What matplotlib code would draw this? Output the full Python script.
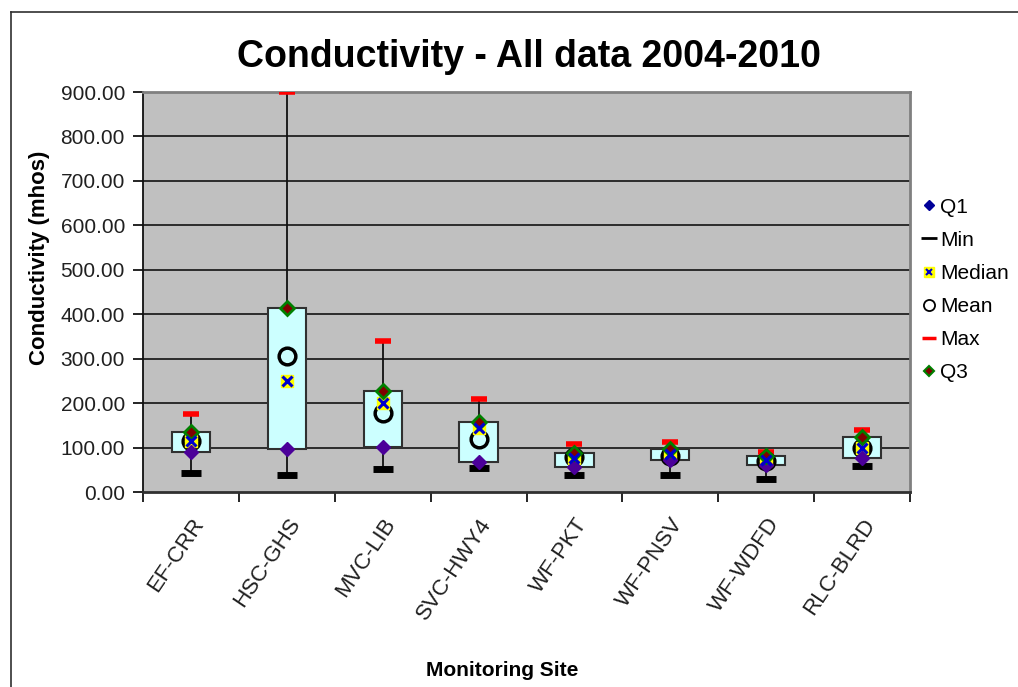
import numpy as np
import matplotlib
matplotlib.use("Agg")
from matplotlib import pyplot as plt
from matplotlib.lines import Line2D
from matplotlib.transforms import ScaledTranslation

plt.rcParams['font.family'] = ['Liberation Sans', 'DejaVu Sans']

# data
sites = ['EF-CRR', 'HSC-GHS', 'MVC-LIB', 'SVC-HWY4', 'WF-PKT', 'WF-PNSV',
         'WF-WDFD', 'RLC-BLRD']
q1 = [89, 96, 102, 67, 57, 72, 60, 77]
q3 = [136, 414, 228, 157, 87, 97, 81, 124]
vmin = [42, 39, 51, 53, 39, 39, 30, 59]
vmax = [176, 900, 340, 210, 107, 112, 91, 139]
median = [114, 250, 201, 143, 76, 85, 72, 100]
mean = [115, 306, 177, 119, 78, 82, 70, 98]

fig = plt.figure(figsize=(10.18, 6.87), dpi=100)
ax = fig.add_axes([143/1018, 1 - 492/687, (910 - 143)/1018, 400/687])
ax.set_facecolor('#C0C0C0')

# outer chart border, only left and top edges are inside the picture
fx, fy = 10.5/1018, 1 - 11.5/687
fig.add_artist(Line2D([fx, fx], [0, fy], transform=fig.transFigure,
                      color='#303030', lw=1.2))
fig.add_artist(Line2D([fx, 1], [fy, fy], transform=fig.transFigure,
                      color='#303030', lw=1.2))

x = np.arange(len(sites))

# gridlines
for yv in range(100, 900, 100):
    ax.axhline(yv, color='#202020', lw=1.3, zorder=1)

# whiskers
ax.vlines(x, vmin, vmax, color='#101010', lw=1.3, zorder=2)

# boxes
ax.bar(x, np.array(q3) - np.array(q1), bottom=q1, width=0.4,
       color='#CCFFFF', edgecolor='#303030', lw=1.5, zorder=3)

ax.plot(x, vmin, ls='none', marker='_', ms=15, mew=5, color='black', zorder=4)
ax.plot(x, vmax, ls='none', marker='_', ms=11, mew=4, color='#FF0000', zorder=4)
ax.plot(x, mean, ls='none', marker='o', ms=12, mfc='none', mec='black',
        mew=2.5, zorder=5)
ax.plot(x, median, ls='none', marker='s', ms=9, color='#FFFF00', zorder=6)
ax.plot(x, median, ls='none', marker='x', ms=7, mew=2.2, color='#0000CC', zorder=7)
ax.plot(x, q1, ls='none', marker='D', ms=7, color='#4B0099', zorder=6)
ax.plot(x, q3, ls='none', marker='D', ms=7, mfc='#800000', mec='#008000',
        mew=2, zorder=6)

ax.set_xlim(-0.5, len(sites) - 0.5)
ax.set_ylim(0, 900)
ax.set_yticks(np.arange(0, 901, 100))
ax.set_yticklabels(['%.2f' % v for v in np.arange(0, 901, 100)],
                   fontsize=15, color='#202020')
ax.set_xticks(x)
ax.set_xticklabels(sites, rotation=56, ha='right', rotation_mode='anchor',
                   fontsize=16, color='#202020')
shift = ScaledTranslation(-6/100, 0, fig.dpi_scale_trans)
for lab in ax.get_xticklabels():
    lab.set_transform(lab.get_transform() + shift)
ax.set_xticks(np.arange(-0.5, len(sites)), minor=True)
ax.tick_params(axis='x', which='major', length=0, pad=16)
ax.tick_params(axis='x', which='minor', length=7, width=1.2, direction='out')
ax.tick_params(axis='y', length=7, width=1.2, direction='out', pad=6)

for s in ['top', 'right']:
    ax.spines[s].set_color('#808080')
    ax.spines[s].set_linewidth(2)
ax.spines['left'].set_color('#101010')
ax.spines['bottom'].set_color('#303030')
ax.spines['left'].set_linewidth(1.3)
ax.spines['bottom'].set_linewidth(2)

fig.text(40/1018, 1 - 258/687, 'Conductivity (mhos)', fontsize=16,
         fontweight='bold', rotation=90, ha='center', va='center')
fig.text(502/1018, 1 - 670/687, 'Monitoring Site', fontsize=15,
         fontweight='bold', ha='center', va='center')
fig.text(529/1018, 1 - 57/687, 'Conductivity - All data 2004-2010',
         fontsize=27, fontweight='bold', ha='center', va='center')

handles = [
    Line2D([], [], ls='none', marker='D', ms=5, color='#000099'),
    Line2D([], [], ls='none', marker='_', ms=12, mew=2, color='black'),
    (Line2D([], [], ls='none', marker='s', ms=7, color='#FFFF00'),
     Line2D([], [], ls='none', marker='x', ms=5, mew=1.5, color='#0000CC')),
    Line2D([], [], ls='none', marker='o', ms=8, mfc='none', mec='black', mew=1.3),
    Line2D([], [], ls='none', marker='_', ms=10, mew=2.5, color='#FF0000'),
    Line2D([], [], ls='none', marker='D', ms=5, mfc='#800000', mec='#008000', mew=1.5),
]
labels = ['Q1', 'Min', 'Median', 'Mean', 'Max', 'Q3']
fig.legend(handles, labels, loc='center left',
           bbox_to_anchor=(913/1018, 1 - 290/687), frameon=False,
           fontsize=15, handlelength=0.7, handletextpad=0.2,
           labelspacing=0.68, borderaxespad=0)

fig.savefig('out.png', dpi=100)
